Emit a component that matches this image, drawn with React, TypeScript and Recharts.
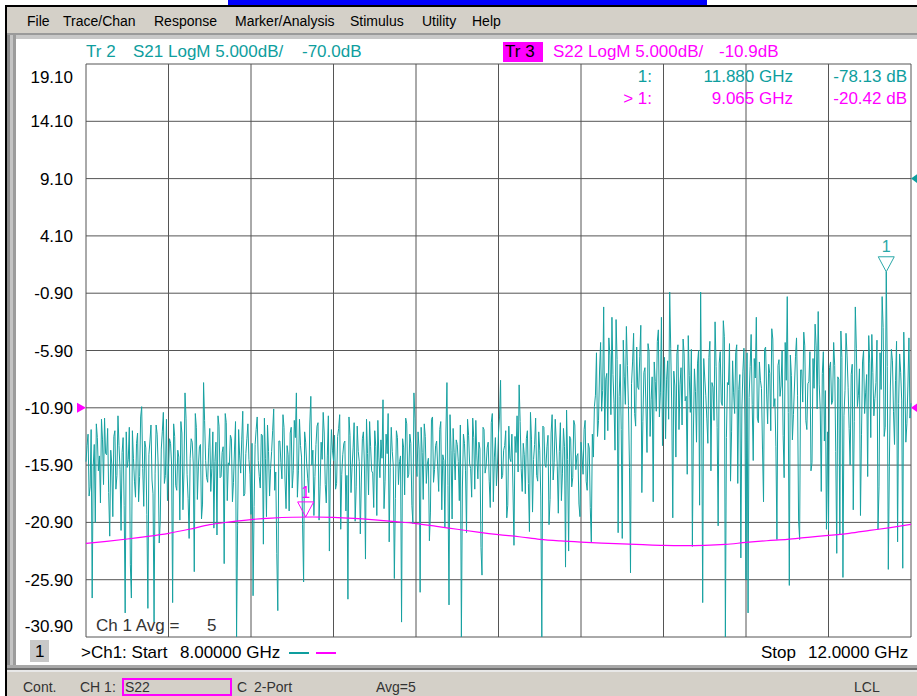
import React from "react";
import { LineChart, Line, XAxis, YAxis, CartesianGrid, ReferenceDot } from "recharts";

const FONT = '"Liberation Sans", Arial, Helvetica, sans-serif';
const TEAL = "#0e9e9e";
const TRACE_TEAL = "#17a1a1";
const MAGENTA = "#ff00ff";

// Sweep: 8 GHz .. 12 GHz, 801 points (5 MHz spacing)
const START_GHZ = 8;
const S21_STEP_GHZ = 0.01;
const S22_STEP_GHZ = 0.1;

// Tr 2 (S21) trace, display units of the left scale (ref -70 dB sits at the 9.10 line)
// points at 8.00, 8.01, ... 12.00 GHz
const s21DisplayA = [
  -15.6,-13.2,-17.8,-27.5,-14.1,-12.3,-16.4,-19.2,-13.7,-11.8,-15.0,-18.3,-14.6,-20.4,-12.9,-16.8,-14.2,-21.6,-13.5,-28.8,
  -16.1,-12.6,-27.5,-15.3,-18.7,-13.1,-16.9,-10.8,-19.5,-14.4,-28.4,-13.8,-17.2,-29.6,-12.4,-15.9,-20.8,-13.0,-17.5,-11.9,
  -16.3,-14.0,-27.9,-13.4,-18.1,-15.2,-12.1,-19.8,-9.6,-16.7,-22.3,-13.6,-15.8,-11.4,-18.9,-14.3,-20.6,-8.7,-15.5,-17.4,
  -12.7,-16.2,-21.4,-13.9,-11.6,-17.0,-14.8,-24.5,-12.2,-15.7,-13.3,-19.1,-14.5,-30.9,-12.8,-16.6,-11.2,-18.4,-13.6,-15.4,
  -20.2,-27.3,-14.1,-11.7,-16.9,-13.2,-22.8,-15.3,-12.4,-18.6,-14.7,-11.0,-16.5,-28.6,-13.8,-17.1,-12.6,-19.7,-15.0,-13.1,
  -17.9,-12.0,-9.6,-16.4,-14.2,-21.1,-13.0,-15.8,-18.3,-9.9,-14.6,-16.9,-12.5,-20.7,-13.9,-11.3,-17.6,-15.1,-23.4,-12.8,
  -15.5,-18.0,-13.4,-11.5,-16.7,-14.0,-19.9,-27.6,-13.3,-16.1,-12.2,-17.8,-14.7,-21.9,-13.6,-15.9,-11.9,-18.5,-14.3,-16.6,
  -12.9,-20.3,-15.2,-13.7,-10.2,-17.3,-14.9,-22.6,-12.6,-16.0,-18.8,-13.5,-15.6,-29.6,-14.4,-11.8,-17.0,-13.2,-19.4,-9.6,
  -15.7,-13.0,-27.0,-14.8,-12.3,-17.5,-15.3,-20.0,-11.7,-16.3,-13.8,-18.2,-12.1,-15.0,-21.3,-8.7,-28.1,-14.6,-12.7,-17.2,
  -14.1,-19.0,-30.9,-13.2,-16.4,-11.9,-15.8,-18.7,-13.5,-12.0,-17.1,-14.5,-25.5,-12.8,-16.0,-13.9,-19.6,-11.4,-15.2,-17.7,
  -13.1,-8.5,-16.8,-14.2,-20.5,-12.5,-15.6,-17.9,-13.4,-11.6,-8.9,-16.2,-14.0,-18.4,-12.9,-21.7,-13.7,-15.4,-11.8,-17.3,
  -14.6,-30.9,-12.6,-16.1,-13.3,-18.9,-11.5,-15.7,-13.8,-20.1,-12.2,-16.6,-14.3,-11.1,-23.4,-13.6,-17.0,-12.4,-15.1,-19.3,
  -13.9,-16.7,-12.0,-18.1,-14.4,-22.6,-15.2,-9.8,-13.4,-7.6,-11.2,-2.1,-8.4,-12.9,-6.3,-3.0,-10.5,-3.2,-21.8,-7.1,
  -22.3,-8.2,-3.8,-10.7,-25.3,-6.9,-11.4,-5.6,-9.3,-3.7,-12.1,-7.4,-14.8,-6.0,-10.2,-19.1,-8.6,-5.1,-11.7,-3.0,
  -9.5,-13.6,-6.8,-0.8,-10.9,-7.7,-15.2,-5.4,-8.9,-12.4,-6.2,-9.9,-4.6,-11.3,-23.0,-7.5,-13.9,-5.9,-0.8,-27.9,
  -8.3,-11.8,-6.5,-16.4,-9.1,-3.4,-12.6,-7.0,-10.4,-3.3,-30.9,-8.7,-5.3,-13.0,-9.6,-6.1,-17.5,-8.0,-11.0,-5.7,
  -25.9,-28.8,-7.3,-10.6,-6.6,-3.0,-12.2,-8.5,-14.5,-5.8,-9.7,-7.1,-12.9,-4.9,-10.1,-22.4,-6.7,-9.0,-13.3,-5.2,
  -1.2,-26.4,-8.1,-11.5,-6.4,-9.8,-22.4,-7.6,-4.3,-12.0,-8.8,-6.0,-15.7,-9.2,-5.5,-2.5,-11.1,-7.9,-13.8,-21.5,
  -21.6,-6.9,-10.3,-7.2,-23.6,-8.4,-4.2,-25.7,-9.4,-6.3,-12.7,-8.0,-19.8,-2.1,-10.8,-7.5,-13.2,-5.9,-9.6,-16.9,
  -7.0,-4.5,-11.6,-8.7,-21.5,-6.1,-1.2,-13.4,0.97,-25.0,-9.0,-6.8,-14.1,-5.1,-10.5,-7.8,-24.9,-8.3,-12.3,-4.8,
  -10.5,
];
// points at 8.005, 8.015, ... 11.995 GHz
const s21DisplayB = [
  -14.2,-18.6,-12.8,-16.0,-20.9,-13.5,-15.1,-11.9,-17.6,-14.9,-12.7,-22.1,-15.8,-13.4,-18.0,-11.6,-16.3,-14.8,-19.4,-13.0,
  -15.4,-24.6,-12.9,-17.3,-14.0,-19.1,-11.7,-16.2,-13.8,-20.2,-15.0,-12.4,-18.4,-16.6,-13.2,-22.7,-14.5,-11.3,-16.8,-19.0,
  -13.6,-15.9,-12.3,-17.7,-14.6,-20.7,-13.1,-16.5,-11.8,-18.8,-15.3,-13.9,-25.2,-12.6,-16.0,-14.1,-19.3,-12.0,-17.0,-14.4,
  -18.2,-13.0,-15.6,-22.0,-12.5,-16.9,-14.3,-11.4,-19.0,-15.9,-13.6,-17.4,-12.1,-21.2,-15.1,-13.7,-18.6,-14.9,-12.3,-16.7,
  -14.0,-19.5,-12.8,-15.5,-17.9,-13.3,-11.8,-20.4,-14.7,-16.2,-12.9,-18.1,-23.6,-13.8,-15.7,-11.5,-17.2,-14.2,-19.9,-12.6,
  -16.4,-13.5,-18.7,-11.9,-15.2,-26.1,-13.9,-17.1,-12.4,-15.9,-20.3,-14.1,-12.2,-17.8,-15.4,-13.1,-19.2,-11.6,-16.1,-14.6,
  -13.3,-17.5,-12.7,-21.5,-15.0,-13.8,-16.8,-11.7,-18.3,-14.4,-20.8,-12.5,-15.6,-17.2,-13.0,-24.1,-14.9,-12.1,-16.4,-19.6,
  -14.3,-12.0,-17.0,-15.3,-19.7,-13.2,-11.4,-16.1,-14.7,-25.8,-12.9,-17.6,-15.1,-13.6,-18.5,-12.3,-16.7,-14.0,-21.0,-11.8,
  -16.9,-14.5,-12.6,-18.9,-13.4,-15.8,-22.5,-11.9,-17.4,-14.2,-16.0,-12.8,-19.8,-15.5,-13.1,-17.7,-11.5,-20.6,-14.8,-13.7,
  -15.6,-12.4,-17.9,-14.0,-21.8,-13.3,-16.2,-11.8,-18.0,-15.1,-13.9,-23.1,-12.6,-16.6,-14.4,-17.3,-12.2,-19.1,-13.5,-15.9,
  -11.7,-17.1,-14.6,-12.9,-19.4,-15.3,-13.2,-22.9,-14.8,-16.5,-12.1,-18.2,-15.0,-13.6,-17.5,-11.3,-20.0,-14.1,-16.8,-13.0,
  -18.6,-12.5,-15.8,-14.3,-21.1,-13.1,-17.2,-11.9,-16.0,-14.7,-19.0,-12.7,-24.8,-15.4,-13.4,-17.8,-12.0,-16.3,-14.9,-20.4,
  -15.1,-12.8,-17.3,-14.0,-19.6,-13.2,-10.8,-6.1,-12.0,-5.2,-9.4,-13.7,-7.9,-4.8,-11.5,-8.0,-14.6,-6.7,-9.9,-12.8,
  -5.0,-10.6,-7.2,-16.1,-8.8,-4.4,-12.5,-9.1,-6.4,-18.3,-7.8,-10.9,-5.3,-13.4,-8.2,-6.9,-11.2,-4.1,-9.6,-14.2,
  -6.5,-8.4,-11.9,-5.7,-20.5,-9.0,-6.2,-12.8,-7.4,-4.9,-10.3,-16.7,-8.1,-5.8,-13.1,-9.5,-7.0,-19.4,-11.0,-6.6,
  -9.8,-14.0,-5.1,-8.7,-12.0,-7.3,-21.2,-6.0,-10.7,-4.7,-13.5,-8.9,-17.3,-6.8,-11.4,-5.4,-9.3,-24.0,-7.7,-12.4,
  -6.1,-10.0,-4.5,-15.5,-8.3,-11.8,-6.9,-9.2,-19.1,-5.6,-12.3,-7.9,-4.0,-10.8,-14.3,-7.2,-9.9,-5.9,-17.0,-8.5,
  -11.3,-6.3,-13.7,-9.0,-4.8,-20.8,-7.6,-10.4,-5.5,-12.8,-8.6,-16.4,-6.6,-3.6,-11.0,-8.9,-18.2,-6.0,-9.4,-13.0,
  -7.4,-10.6,-5.2,-14.7,-8.2,-22.0,-6.5,-11.6,-4.4,-9.1,-15.9,-7.1,-12.1,-5.7,-9.8,-20.3,-6.9,-11.4,-8.0,-4.6,
  -13.5,-7.8,-10.1,-5.0,-17.8,-9.3,-3.9,-12.6,-7.3,-16.0,-5.8,-11.2,-8.5,-22.6,-6.2,-10.3,-4.3,-13.9,-9.0,-11.8,
];

// Tr 3 (S22) trace in dB, every 0.1 GHz
const s22Db = [
  -22.73,-22.55,-22.35,-22.12,-21.85,-21.5,-21.1,-20.85,-20.65,-20.52,
  -20.45,-20.43,-20.46,-20.55,-20.68,-20.83,-21.0,-21.25,-21.5,-21.75,
  -21.97,-22.15,-22.38,-22.52,-22.62,-22.7,-22.77,-22.84,-22.9,-22.92,
  -22.9,-22.82,-22.65,-22.5,-22.38,-22.2,-22.04,-21.85,-21.6,-21.35,-21.07,
];

const yTickValues = [19.1, 14.1, 9.1, 4.1, -0.9, -5.9, -10.9, -15.9, -20.9, -25.9, -30.9];
const xGridValues = [8, 8.4, 8.8, 9.2, 9.6, 10, 10.4, 10.8, 11.2, 11.6, 12];

const tr2Marker = { f: 11.88, index: 388, text: "11.880 GHz", value: "-78.13 dB" };
const tr3Marker = { f: 9.065, db: -20.42, text: "9.065 GHz", value: "-20.42 dB" };
const tr2RefPos = 9.1;
const tr3RefPos = -10.9;

const s21Data: { f: number; v: number }[] = [];
s21DisplayA.forEach((v, i) => {
  s21Data.push({ f: +(START_GHZ + i * S21_STEP_GHZ).toFixed(3), v });
  if (i < s21DisplayB.length) {
    s21Data.push({ f: +(START_GHZ + (i + 0.5) * S21_STEP_GHZ).toFixed(3), v: s21DisplayB[i] });
  }
});
const s22Data = s22Db.map((v, i) => ({ f: +(START_GHZ + i * S22_STEP_GHZ).toFixed(1), v }));

function Txt(props: any) {
  const { x, y, size = 17, color = "#000", right = false, children } = props;
  const lh = size + 3;
  return (
    <div
      style={{
        position: "absolute",
        left: x,
        top: y - lh / 2,
        fontSize: size,
        lineHeight: lh + "px",
        color,
        whiteSpace: "pre",
        fontFamily: FONT,
        transform: right ? "translateX(-100%)" : undefined,
      }}
    >
      {children}
    </div>
  );
}

function Box(props: any) {
  const { x, y, w, h, bg, style } = props;
  return <div style={{ position: "absolute", left: x, top: y, width: w, height: h, background: bg, ...style }} />;
}

const YTick = (props: any) => {
  const { x, y, payload } = props;
  const v = payload.value;
  const shift = v === yTickValues[0] ? 12.5 : v === yTickValues[yTickValues.length - 1] ? -11 : 0;
  return (
    <text x={x} y={y + shift} dy="0.355em" textAnchor="end" fontSize={17} fontFamily={FONT} fill="#000">
      {v.toFixed(2)}
    </text>
  );
};

const markerShape = (color: string) => (p: any) => {
  const { cx, cy } = p;
  return (
    <g>
      <polygon
        points={`${cx - 8},${cy - 15} ${cx + 8},${cy - 15} ${cx},${cy}`}
        fill="#fff"
        fillOpacity={0}
        stroke={color}
        strokeWidth={1}
      />
      <text x={cx} y={cy - 25} dy="0.355em" textAnchor="middle" fontSize={16} fontFamily={FONT} fill={color}>
        1
      </text>
    </g>
  );
};

const leftArrow = (color: string) => (p: any) => {
  const { cx, cy } = p;
  return <polygon points={`${cx - 9},${cy - 5} ${cx},${cy} ${cx - 9},${cy + 5}`} fill={color} />;
};
const rightArrow = (color: string) => (p: any) => {
  const { cx, cy } = p;
  return <polygon points={`${cx},${cy} ${cx + 7},${cy - 5} ${cx + 7},${cy + 5}`} fill={color} />;
};

export default function App() {
  return (
    <div
      style={{
        position: "absolute",
        left: 0,
        top: 0,
        width: 917,
        height: 696,
        background: "#fff",
        overflow: "hidden",
        fontFamily: FONT,
      }}
    >
      {/* title strip */}
      <Box x={228} y={0} w={479} h={5} bg="#0000ff" />
      <Box x={5} y={5} w={912} h={2} bg="#000" />
      <Box x={5} y={5} w={2} h={691} bg="#000" />
      {/* menu bar */}
      <Box x={7} y={7} w={910} h={27} bg="#d4d0c8" />
      <Txt x={27} y={21} size={14} color="#000">File</Txt>
      <Txt x={63} y={21} size={14} color="#000">Trace/Chan</Txt>
      <Txt x={154} y={21} size={14} color="#000">Response</Txt>
      <Txt x={235} y={21} size={14} color="#000">Marker/Analysis</Txt>
      <Txt x={350} y={21} size={14} color="#000">Stimulus</Txt>
      <Txt x={422} y={21} size={14} color="#000">Utility</Txt>
      <Txt x={472} y={21} size={14} color="#000">Help</Txt>
      <Box x={7} y={33} w={910} h={2} bg="#9a9a9a" />
      <Box x={7} y={35} w={910} h={4} bg="#c8c8c8" />
      {/* left frame */}
      <Box x={7} y={35} w={3} h={637} bg="#8c8c8c" />
      <Box x={10} y={35} w={3} h={637} bg="#c4c4c4" />
      <Box x={13} y={35} w={3} h={637} bg="#9c9c9c" />
      {/* white display panel */}
      <Box x={16} y={39} w={901} h={626} bg="#fff" />
      {/* bottom frame & status bar */}
      <Box x={7} y={665} w={910} h={3} bg="#a8a8a8" />
      <Box x={7} y={668} w={910} h={2} bg="#6e6e6e" />
      <Box x={7} y={670} w={910} h={2} bg="#e8e8e8" />
      <Box x={7} y={672} w={910} h={24} bg="#d4d0c8" />

      <div style={{ position: "absolute", left: 0, top: 0 }}>
        <LineChart
          width={917}
          height={696}
          data={s21Data}
          margin={{ top: 64, right: 6, bottom: 59, left: 16 }}
        >
          <CartesianGrid stroke="#555" strokeWidth={1} />
          <XAxis dataKey="f" type="number" domain={[8, 12]} ticks={xGridValues} hide />
          <YAxis
            type="number"
            domain={[-30.9, 19.1]}
            ticks={yTickValues}
            width={70}
            axisLine={false}
            tickLine={false}
            tickSize={0}
            tickMargin={13}
            tick={YTick}
            interval={0}
            allowDataOverflow
          />
          <Line
            dataKey="v"
            stroke={TRACE_TEAL}
            strokeWidth={1}
            dot={false}
            isAnimationActive={false}
            type="linear"
          />
          <Line
            data={s22Data}
            dataKey="v"
            stroke={MAGENTA}
            strokeWidth={1.2}
            dot={false}
            isAnimationActive={false}
            type="monotone"
          />
          <ReferenceDot x={tr2Marker.f} y={s21DisplayA[tr2Marker.index]} ifOverflow="visible" shape={markerShape("#2aa8a8")} />
          <ReferenceDot x={tr3Marker.f} y={tr3Marker.db} ifOverflow="visible" shape={markerShape(MAGENTA)} />
          <ReferenceDot x={8} y={tr3RefPos} ifOverflow="visible" shape={leftArrow(MAGENTA)} />
          <ReferenceDot x={12} y={tr3RefPos} ifOverflow="visible" shape={rightArrow(MAGENTA)} />
          <ReferenceDot x={12} y={tr2RefPos} ifOverflow="visible" shape={rightArrow(TEAL)} />
        </LineChart>
      </div>

      {/* header */}
      <Txt x={86} y={52} color={TEAL}>Tr 2</Txt>
      <Txt x={133} y={52} color={TEAL}>S21 LogM 5.000dB/</Txt>
      <Txt x={302} y={52} color={TEAL}>-70.0dB</Txt>
      <Box x={503} y={42} w={40} h={20} bg={MAGENTA} />
      <Txt x={505} y={52} color="#000">Tr 3</Txt>
      <Txt x={553} y={52} color={MAGENTA}>S22 LogM 5.000dB/</Txt>
      <Txt x={719} y={52} color={MAGENTA}>-10.9dB</Txt>

      {/* marker readout */}
      <Txt x={652} y={77} color={TEAL} right>1:</Txt>
      <Txt x={793} y={77} color={TEAL} right>{tr2Marker.text}</Txt>
      <Txt x={907} y={77} color={TEAL} right>{tr2Marker.value}</Txt>
      <Txt x={652} y={99} color={MAGENTA} right>{"> 1:"}</Txt>
      <Txt x={793} y={99} color={MAGENTA} right>{tr3Marker.text}</Txt>
      <Txt x={907} y={99} color={MAGENTA} right>{tr3Marker.value}</Txt>

      {/* averaging / sweep footer */}
      <Txt x={96} y={626} color="#333">Ch 1 Avg =</Txt>
      <Txt x={207} y={626} color="#333">5</Txt>
      <Box x={30} y={640} w={19} h={22} bg="#c8c8c8" />
      <Txt x={35} y={652} color="#000">1</Txt>
      <Txt x={81} y={653} color="#000">{">Ch1: Start"}</Txt>
      <Txt x={180} y={653} color="#000">8.00000 GHz</Txt>
      <Box x={289} y={652} w={20} h={2} bg={TEAL} />
      <Box x={316} y={652} w={20} h={2} bg={MAGENTA} />
      <Txt x={761} y={653} color="#000">Stop</Txt>
      <Txt x={808} y={653} color="#000">12.0000 GHz</Txt>

      {/* status bar */}
      <Txt x={23} y={687} size={14} color="#333">Cont.</Txt>
      <Txt x={80} y={687} size={14} color="#333">CH 1:</Txt>
      <div
        style={{
          position: "absolute",
          left: 122,
          top: 678,
          width: 106,
          height: 14,
          border: "2px solid " + MAGENTA,
        }}
      />
      <Txt x={125} y={687} size={14} color="#333">S22</Txt>
      <Txt x={237} y={687} size={14} color="#333">C</Txt>
      <Txt x={254} y={687} size={14} color="#333">2-Port</Txt>
      <Txt x={376} y={687} size={14} color="#333">Avg=5</Txt>
      <Txt x={854} y={687} size={14} color="#333">LCL</Txt>
    </div>
  );
}
